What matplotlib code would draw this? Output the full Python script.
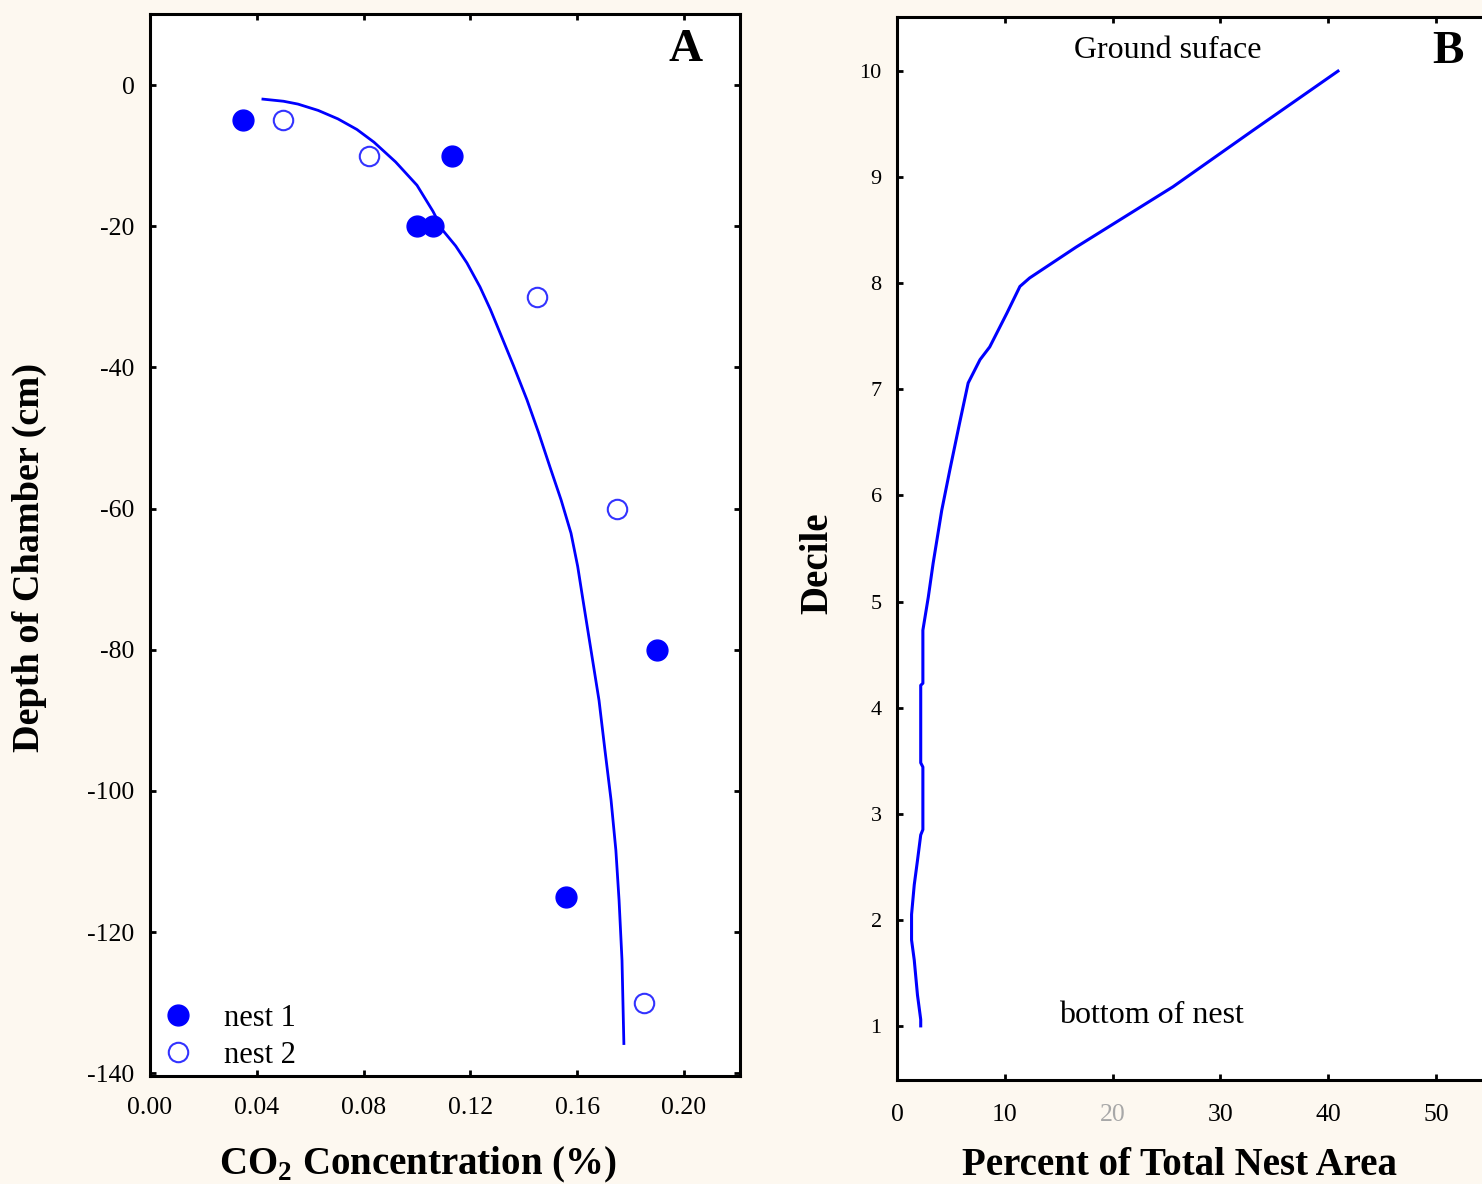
import matplotlib
matplotlib.use("Agg")
import matplotlib.pyplot as plt
from matplotlib.lines import Line2D

# ---- panel A: CO2 vs chamber depth ----
nest1_co2 = [0.035, 0.100, 0.106, 0.113, 0.190, 0.156]
nest1_depth = [-5, -20, -20, -10, -80, -115]
nest2_co2 = [0.050, 0.082, 0.145, 0.175, 0.185]
nest2_depth = [-5, -10, -30, -60, -130]

# fitted curve
fit_co2 = [0.0423, 0.0500, 0.0554, 0.0630, 0.0704, 0.0775, 0.0839, 0.0920,
           0.1000, 0.1060, 0.1097, 0.1145, 0.1187, 0.1236, 0.1275, 0.1311,
           0.1362, 0.1412, 0.1456, 0.1498, 0.1540, 0.1577, 0.1602, 0.1622,
           0.1652, 0.1682, 0.1704, 0.1727, 0.1745, 0.1757, 0.1768, 0.1775]
fit_depth = [-2.0, -2.3, -2.7, -3.6, -4.8, -6.3, -8.1, -10.9,
             -14.2, -17.9, -20.6, -22.8, -25.2, -28.6, -31.8, -35.1,
             -39.8, -44.6, -49.3, -54.1, -58.8, -63.5, -68.2, -73.0,
             -80.1, -87.2, -94.2, -101.3, -108.4, -115.5, -124.0, -135.8]

# ---- panel B: nest area per decile ----
area_pct = [40.9, 33.0, 25.6, 16.6, 12.3, 11.4, 10.2, 8.6, 7.7, 6.6, 5.8,
            4.9, 4.15, 3.35, 2.9, 2.4, 2.4, 2.2, 2.2, 2.4, 2.4, 2.2, 1.9,
            1.6, 1.35, 1.35, 1.6, 1.9, 2.2, 2.2]
decile = [10.0, 9.44, 8.91, 8.34, 8.05, 7.97, 7.72, 7.40, 7.28, 7.06, 6.68,
          6.24, 5.86, 5.36, 5.04, 4.73, 4.23, 4.21, 3.48, 3.44, 2.85, 2.80,
          2.56, 2.33, 2.05, 1.81, 1.62, 1.29, 1.06, 1.0]

bg = "#FDF8F0"
blue = "#0000FF"

plt.rcParams["font.family"] = ["Liberation Serif", "DejaVu Serif"]
plt.rcParams["axes.unicode_minus"] = False
plt.rcParams["mathtext.fontset"] = "custom"
plt.rcParams["mathtext.rm"] = "Liberation Serif:bold"

fig = plt.figure(figsize=(14.82, 11.84), dpi=100, facecolor=bg)
axA = fig.add_axes([150 / 1482, 1 - 1076 / 1184, 590 / 1482, 1062 / 1184])
axB = fig.add_axes([897 / 1482, 1 - 1080 / 1184, 593 / 1482, 1063 / 1184])

for ax in (axA, axB):
    ax.set_facecolor("white")
    for s in ax.spines.values():
        s.set_linewidth(2.2)
    ax.tick_params(direction="in", length=4, width=2, labelsize=18.5,
                   top=True, right=True, pad=11)

# A
axA.plot(fit_co2, fit_depth, color=blue, lw=2)
axA.plot(nest1_co2, nest1_depth, "o", color=blue, ms=15, ls="none")
axA.plot(nest2_co2, nest2_depth, "o", mfc="white", mec="#3333FF", mew=1.5,
         ms=14, ls="none")
axA.set_xlim(0, 0.221)
axA.set_ylim(-140.4, 10.06)
axA.set_xticks([0.00, 0.04, 0.08, 0.12, 0.16, 0.20])
axA.set_xticklabels(["0.00", "0.04", "0.08", "0.12", "0.16", "0.20"])
axA.set_yticks([0, -20, -40, -60, -80, -100, -120, -140])
axA.tick_params(axis="x", pad=15)
axA.set_xlabel(r"CO$_2$ Concentration (%)", fontsize=28, fontweight="bold")
axA.xaxis.set_label_coords(0.454, -0.084)
axA.xaxis.label.set_va("center")
axA.set_ylabel("Depth of Chamber (cm)", fontsize=27.5, fontweight="bold")
axA.yaxis.set_label_coords(-0.205, 0.488)
axA.yaxis.label.set_va("center")
axA.text(0.2007, 4.96, "A", fontsize=34, fontweight="bold",
         ha="center", va="center")
handles = [
    Line2D([], [], marker="o", color=blue, ls="none", ms=15),
    Line2D([], [], marker="o", mfc="white", mec="#3333FF", mew=1.5,
           ls="none", ms=14),
]
axA.legend(handles, ["nest 1", "nest 2"], loc="lower left",
           bbox_to_anchor=(0.022, 0.006), frameon=False, fontsize=22,
           handlelength=1, handletextpad=1.0, labelspacing=0.25,
           borderpad=0, borderaxespad=0)

# B
axB.plot(area_pct, decile, color=blue, lw=2.2)
axB.set_xlim(0, 55)
axB.set_ylim(0.49, 10.51)
axB.set_xticks([0, 10, 20, 30, 40, 50])
axB.set_yticks(range(1, 11))
axB.get_xticklabels()[2].set_color("#A8A8A8")
axB.tick_params(axis="x", pad=17)
axB.set_xlabel("Percent of Total Nest Area", fontsize=28, fontweight="bold")
axB.xaxis.set_label_coords(0.477, -0.080)
axB.xaxis.label.set_va("center")
axB.set_ylabel("Decile", fontsize=28, fontweight="bold")
axB.yaxis.set_label_coords(-0.134, 0.486)
axB.yaxis.label.set_va("center")
axB.tick_params(axis="y", labelsize=16)
axB.text(51.1, 10.18, "B", fontsize=34, fontweight="bold",
         ha="center", va="center")
axB.text(25.1, 10.19, "Ground suface", fontsize=23, ha="center", va="center")
axB.text(23.6, 1.10, "bottom of nest", fontsize=23, ha="center", va="center")

fig.savefig("out.png", dpi=100, facecolor=bg)
